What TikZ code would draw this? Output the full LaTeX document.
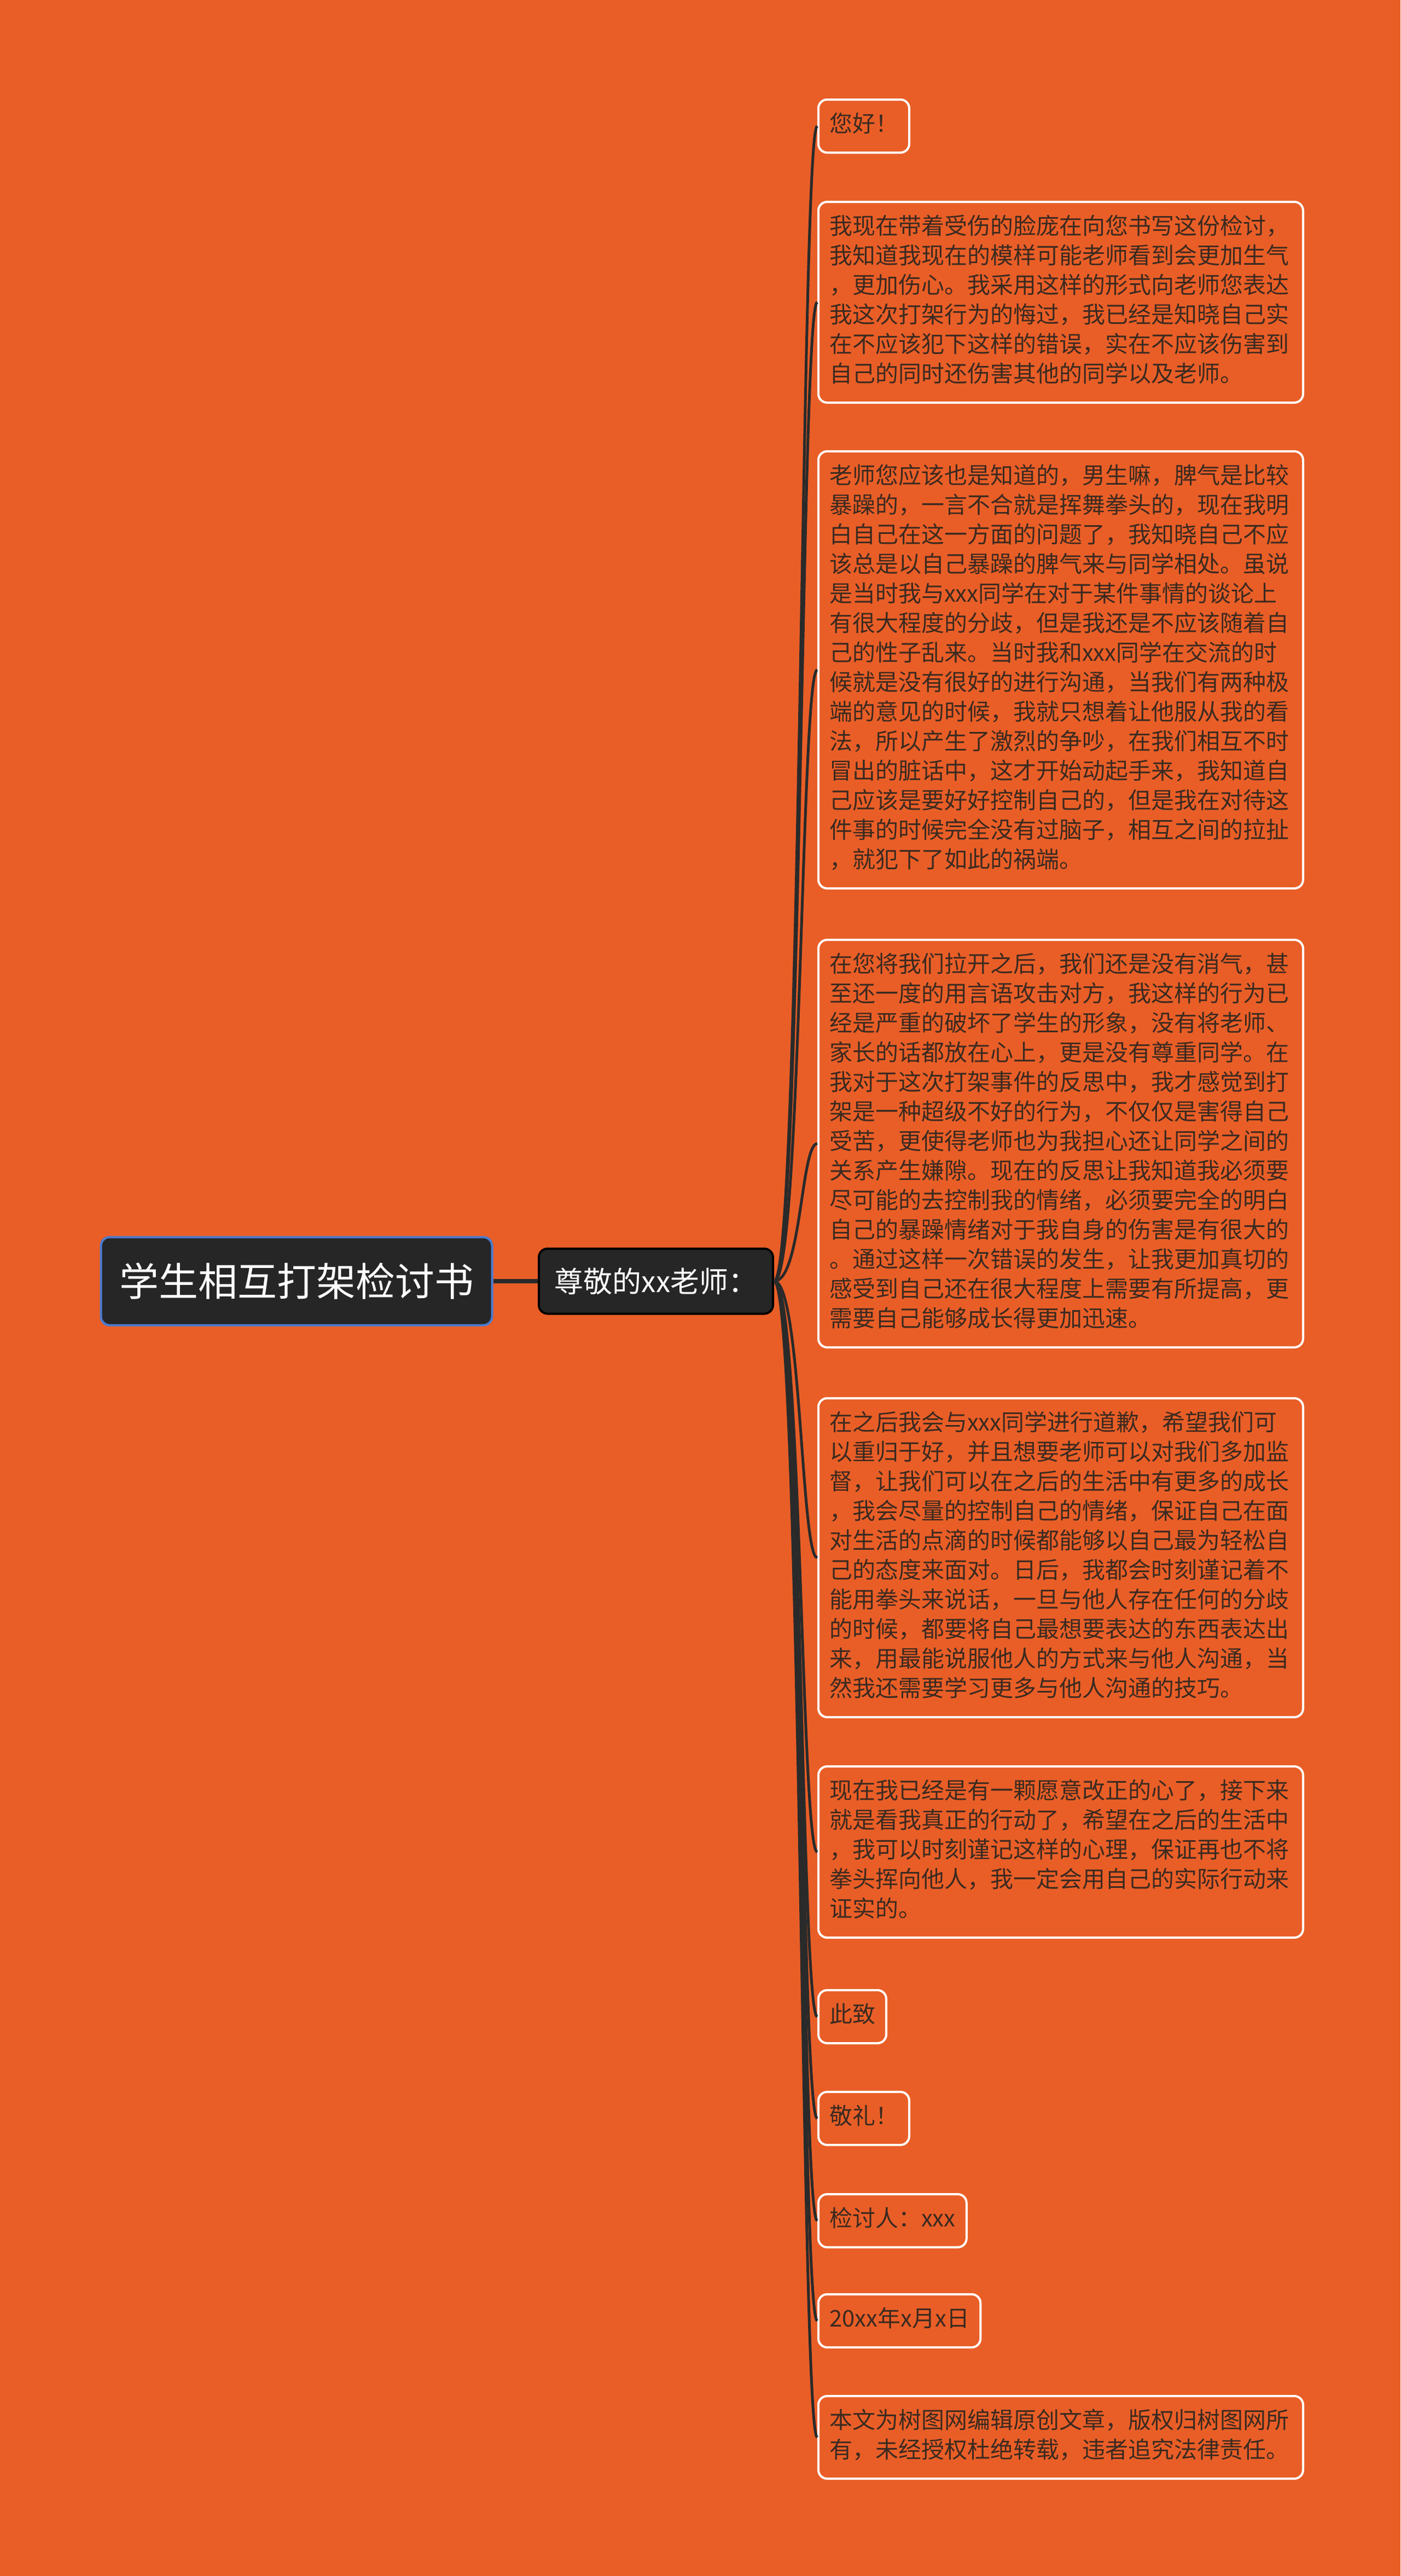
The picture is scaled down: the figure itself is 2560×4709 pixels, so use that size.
\documentclass[tikz,border=0pt]{standalone}
\usepackage{fontspec}
\newfontfamily\cjk{Noto Sans CJK SC}
\definecolor{bgorange}{HTML}{E95E27}
\definecolor{boxdark}{HTML}{262626}
\definecolor{rootblue}{HTML}{4A7BD0}
\definecolor{linedark}{HTML}{2A2A2A}
\definecolor{leaftext}{HTML}{3B2A20}
\begin{document}
\begin{tikzpicture}[x=1pt,y=-1pt,
    leaf/.style={draw=white,line width=4pt,rounded corners=16pt,fill=bgorange,text=leaftext,
      anchor=north west,align=left,inner xsep=20pt,inner ysep=21.5pt,
      font=\cjk\fontsize{42}{54}\selectfont,
      execute at begin node=\strut,execute at end node=\strut},
    wide/.style={text width=846pt},
    branch/.style={draw=linedark,line width=5pt}]
    \fill[bgorange] (0,0) rectangle (2560,4709);
    \useasboundingbox (0,0) rectangle (2560,4709);

    % root and the one child
    \node[fill=boxdark,draw=rootblue,line width=4pt,rounded corners=16pt,text=white,
      minimum width=715pt,minimum height=161pt,font=\cjk\fontsize{72}{84}\selectfont]
      (title) at (542,2342) {学生相互打架检讨书};
    \node[fill=boxdark,draw=black,line width=4pt,rounded corners=16pt,text=white,
      minimum width=428pt,minimum height=119pt,font=\cjk\fontsize{53}{62}\selectfont]
      (greet) at (1199,2342) {尊敬的xx老师：};
    \draw[draw=linedark,line width=8pt] (title.east) -- (greet.west);

    % leaves
    \node[leaf] (hello) at (1494,180) {您好！};
    \node[leaf,wide] (para1) at (1494,367) {我现在带着受伤的脸庞在向您书写这份检讨，\\
      我知道我现在的模样可能老师看到会更加生气\\
      ，更加伤心。我采用这样的形式向老师您表达\\
      我这次打架行为的悔过，我已经是知晓自己实\\
      在不应该犯下这样的错误，实在不应该伤害到\\
      自己的同时还伤害其他的同学以及老师。};
    \node[leaf,wide] (para2) at (1494,823) {老师您应该也是知道的，男生嘛，脾气是比较\\
      暴躁的，一言不合就是挥舞拳头的，现在我明\\
      白自己在这一方面的问题了，我知晓自己不应\\
      该总是以自己暴躁的脾气来与同学相处。虽说\\
      是当时我与xxx同学在对于某件事情的谈论上\\
      有很大程度的分歧，但是我还是不应该随着自\\
      己的性子乱来。当时我和xxx同学在交流的时\\
      候就是没有很好的进行沟通，当我们有两种极\\
      端的意见的时候，我就只想着让他服从我的看\\
      法，所以产生了激烈的争吵，在我们相互不时\\
      冒出的脏话中，这才开始动起手来，我知道自\\
      己应该是要好好控制自己的，但是我在对待这\\
      件事的时候完全没有过脑子，相互之间的拉扯\\
      ，就犯下了如此的祸端。};
    \node[leaf,wide] (para3) at (1494,1716) {在您将我们拉开之后，我们还是没有消气，甚\\
      至还一度的用言语攻击对方，我这样的行为已\\
      经是严重的破坏了学生的形象，没有将老师、\\
      家长的话都放在心上，更是没有尊重同学。在\\
      我对于这次打架事件的反思中，我才感觉到打\\
      架是一种超级不好的行为，不仅仅是害得自己\\
      受苦，更使得老师也为我担心还让同学之间的\\
      关系产生嫌隙。现在的反思让我知道我必须要\\
      尽可能的去控制我的情绪，必须要完全的明白\\
      自己的暴躁情绪对于我自身的伤害是有很大的\\
      。通过这样一次错误的发生，让我更加真切的\\
      感受到自己还在很大程度上需要有所提高，更\\
      需要自己能够成长得更加迅速。};
    \node[leaf,wide] (para4) at (1494,2554) {在之后我会与xxx同学进行道歉，希望我们可\\
      以重归于好，并且想要老师可以对我们多加监\\
      督，让我们可以在之后的生活中有更多的成长\\
      ，我会尽量的控制自己的情绪，保证自己在面\\
      对生活的点滴的时候都能够以自己最为轻松自\\
      己的态度来面对。日后，我都会时刻谨记着不\\
      能用拳头来说话，一旦与他人存在任何的分歧\\
      的时候，都要将自己最想要表达的东西表达出\\
      来，用最能说服他人的方式来与他人沟通，当\\
      然我还需要学习更多与他人沟通的技巧。};
    \node[leaf,wide] (para5) at (1494,3227) {现在我已经是有一颗愿意改正的心了，接下来\\
      就是看我真正的行动了，希望在之后的生活中\\
      ，我可以时刻谨记这样的心理，保证再也不将\\
      拳头挥向他人，我一定会用自己的实际行动来\\
      证实的。};
    \node[leaf] (closing) at (1494,3636) {此致};
    \node[leaf] (salute) at (1494,3822) {敬礼！};
    \node[leaf] (signer) at (1494,4009) {检讨人：xxx};
    \node[leaf] (date) at (1494,4192) {20xx年x月x日};
    \node[leaf,wide] (notice) at (1494,4378) {本文为树图网编辑原创文章，版权归树图网所\\
      有，未经授权杜绝转载，违者追究法律责任。};

    % branches
    \foreach \n in {hello,para1,para2,para3,para4,para5,closing,salute,signer,date,notice}
      \draw[branch] (greet.east) .. controls +(50,0) and +(-30,0) .. (\n.west);
\end{tikzpicture}
\end{document}
